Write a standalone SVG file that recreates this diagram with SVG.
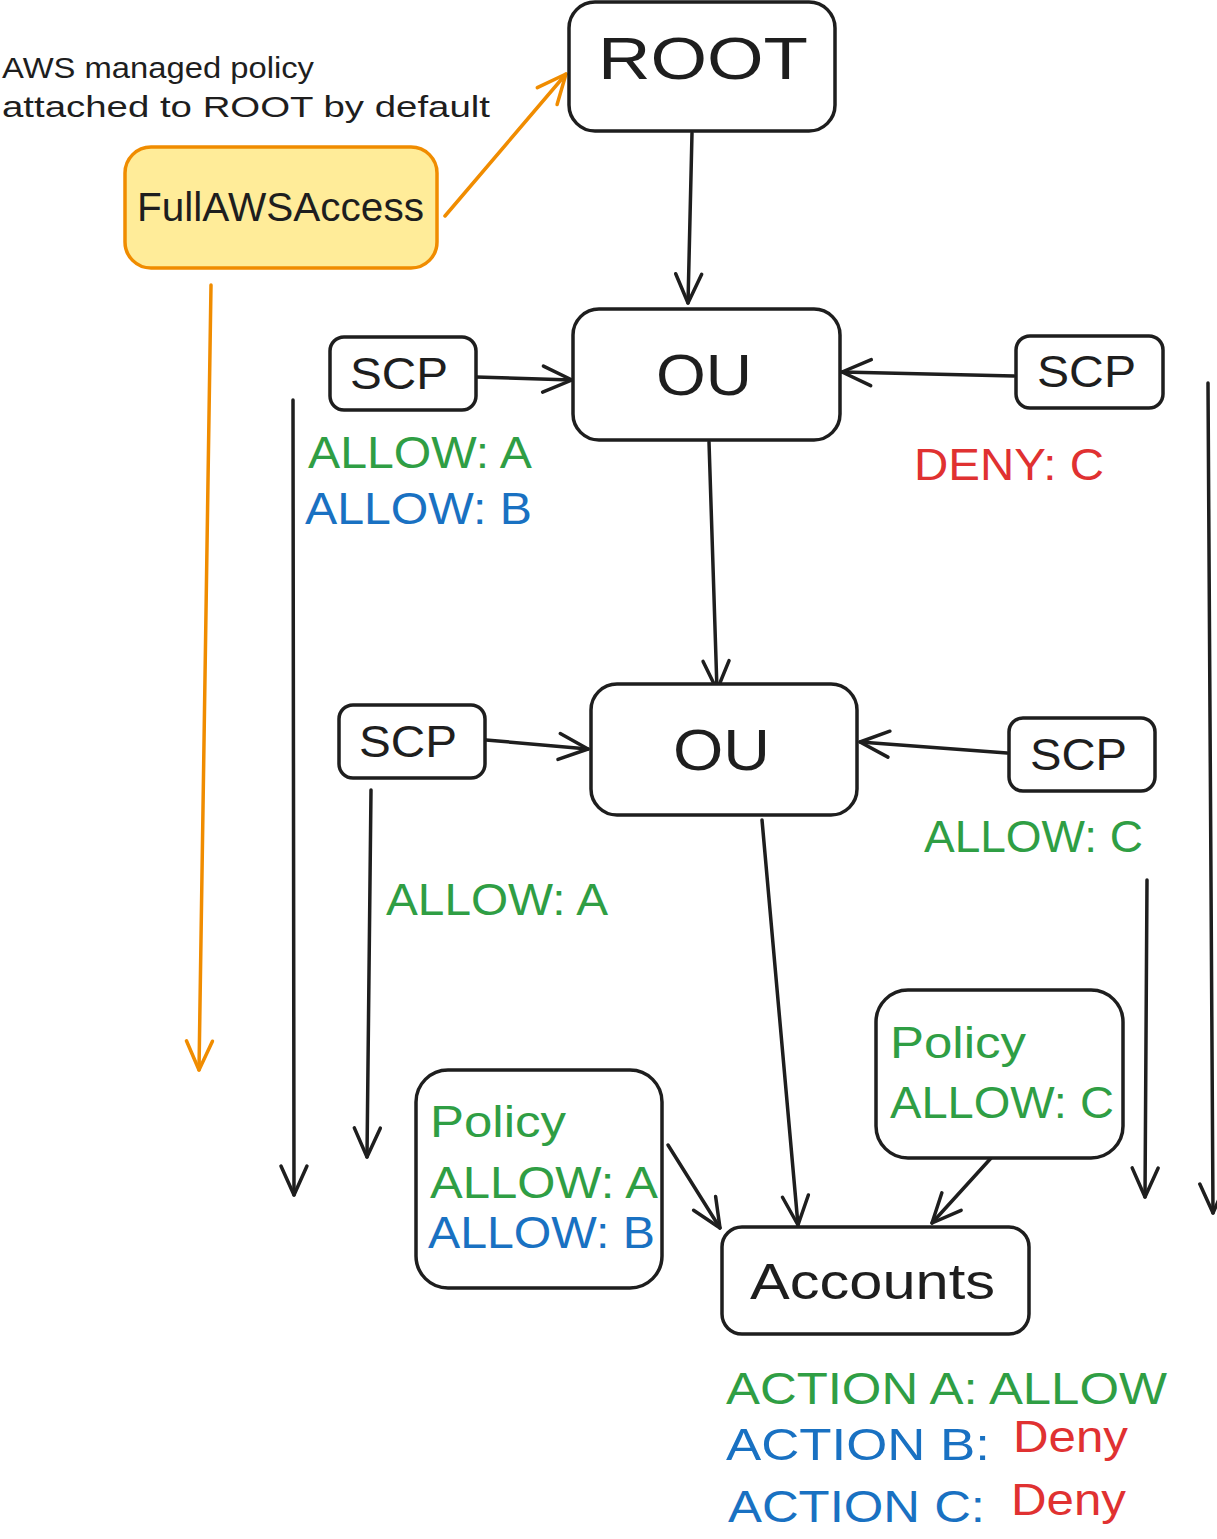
<svg xmlns="http://www.w3.org/2000/svg" width="1217" height="1539" viewBox="0 0 1217 1539">
<style>
.box{fill:#ffffff;stroke:#1e1e1e;stroke-width:3.5}
.yel{fill:#ffec99;stroke:#f08c00;stroke-width:3.5}
.t{font-family:"Liberation Sans",Arial,sans-serif}
.k{fill:#1e1e1e}.g{fill:#2f9e44}.b{fill:#1971c2}.r{fill:#e03131}
.ln{fill:none;stroke:#1e1e1e;stroke-width:3.5;stroke-linecap:round;marker-end:url(#ah)}
.lo{fill:none;stroke:#f08c00;stroke-width:3.5;stroke-linecap:round;marker-end:url(#ao)}
</style>
<defs>
<marker id="ah" markerUnits="userSpaceOnUse" markerWidth="40" markerHeight="40" refX="30" refY="20" orient="auto" overflow="visible">
<path d="M1,7 L30,20 L1,33" fill="none" stroke="#1e1e1e" stroke-width="3.5" stroke-linecap="round" stroke-linejoin="round"/>
</marker>
<marker id="ao" markerUnits="userSpaceOnUse" markerWidth="40" markerHeight="40" refX="30" refY="20" orient="auto" overflow="visible">
<path d="M1,7 L30,20 L1,33" fill="none" stroke="#f08c00" stroke-width="3.5" stroke-linecap="round" stroke-linejoin="round"/>
</marker>
</defs>

<g id="connectors">
<line class="lo" x1="445" y1="216" x2="566" y2="74"/>
<line class="lo" x1="211" y1="285" x2="199" y2="1070"/>
<line class="ln" x1="692" y1="133" x2="688" y2="303"/>
<line class="ln" x1="476" y1="377" x2="572" y2="380"/>
<line class="ln" x1="1014" y1="376" x2="842" y2="372"/>
<line class="ln" x1="293" y1="400" x2="294" y2="1195"/>
<line class="ln" x1="1208" y1="383" x2="1213" y2="1213"/>
<line class="ln" x1="709" y1="442" x2="717" y2="690"/>
<line class="ln" x1="486" y1="740" x2="588" y2="749"/>
<line class="ln" x1="1007" y1="753" x2="860" y2="742"/>
<line class="ln" x1="371" y1="790" x2="367" y2="1157"/>
<line class="ln" x1="1147" y1="880" x2="1145" y2="1197"/>
<line class="ln" x1="762" y1="820" x2="798" y2="1225"/>
<line class="ln" x1="668" y1="1145" x2="720" y2="1228"/>
<line class="ln" x1="992" y1="1157" x2="932" y2="1223"/>
</g>

<g id="note">
<text class="t k" x="2" y="78" font-size="30" textLength="312" lengthAdjust="spacingAndGlyphs">AWS managed policy</text>
<text class="t k" x="2" y="117" font-size="30" textLength="488" lengthAdjust="spacingAndGlyphs">attached to ROOT by default</text>
</g>

<g id="root">
<rect class="box" x="569" y="2" width="266" height="129" rx="26"/>
<text class="t k" x="598" y="79" font-size="60" textLength="210" lengthAdjust="spacingAndGlyphs">ROOT</text>
</g>

<g id="fullawsaccess">
<rect class="yel" x="125" y="147" width="312" height="121" rx="26"/>
<text class="t k" x="137" y="221" font-size="40" textLength="287" lengthAdjust="spacingAndGlyphs">FullAWSAccess</text>
</g>

<g id="ou1">
<rect class="box" x="573" y="309" width="267" height="131" rx="26"/>
<text class="t k" x="656" y="395" font-size="58" textLength="96" lengthAdjust="spacingAndGlyphs">OU</text>
</g>

<g id="scp-left-1">
<rect class="box" x="330" y="337" width="146" height="73" rx="14"/>
<text class="t k" x="350" y="389" font-size="44" textLength="98" lengthAdjust="spacingAndGlyphs">SCP</text>
</g>
<g id="scp-right-1">
<rect class="box" x="1016" y="336" width="147" height="72" rx="14"/>
<text class="t k" x="1037" y="387" font-size="44" textLength="99" lengthAdjust="spacingAndGlyphs">SCP</text>
</g>

<g id="labels-1">
<text class="t g" x="308" y="468" font-size="44" textLength="224" lengthAdjust="spacingAndGlyphs">ALLOW: A</text>
<text class="t b" x="305" y="524" font-size="44" textLength="227" lengthAdjust="spacingAndGlyphs">ALLOW: B</text>
<text class="t r" x="914" y="480" font-size="44" textLength="190" lengthAdjust="spacingAndGlyphs">DENY: C</text>
</g>

<g id="ou2">
<rect class="box" x="591" y="684" width="266" height="131" rx="26"/>
<text class="t k" x="673" y="770" font-size="58" textLength="97" lengthAdjust="spacingAndGlyphs">OU</text>
</g>

<g id="scp-left-2">
<rect class="box" x="339" y="705" width="146" height="73" rx="14"/>
<text class="t k" x="359" y="757" font-size="44" textLength="98" lengthAdjust="spacingAndGlyphs">SCP</text>
</g>
<g id="scp-right-2">
<rect class="box" x="1009" y="718" width="146" height="73" rx="14"/>
<text class="t k" x="1030" y="770" font-size="44" textLength="97" lengthAdjust="spacingAndGlyphs">SCP</text>
</g>

<g id="labels-2">
<text class="t g" x="924" y="852" font-size="44" textLength="219" lengthAdjust="spacingAndGlyphs">ALLOW: C</text>
<text class="t g" x="386" y="915" font-size="44" textLength="222" lengthAdjust="spacingAndGlyphs">ALLOW: A</text>
</g>

<g id="policy-left">
<rect class="box" x="416" y="1070" width="246" height="218" rx="32"/>
<text class="t g" x="430" y="1137" font-size="44" textLength="136" lengthAdjust="spacingAndGlyphs">Policy</text>
<text class="t g" x="430" y="1198" font-size="44" textLength="228" lengthAdjust="spacingAndGlyphs">ALLOW: A</text>
<text class="t b" x="428" y="1248" font-size="44" textLength="227" lengthAdjust="spacingAndGlyphs">ALLOW: B</text>
</g>

<g id="policy-right">
<rect class="box" x="876" y="990" width="247" height="168" rx="32"/>
<text class="t g" x="890" y="1058" font-size="44" textLength="136" lengthAdjust="spacingAndGlyphs">Policy</text>
<text class="t g" x="890" y="1118" font-size="44" textLength="224" lengthAdjust="spacingAndGlyphs">ALLOW: C</text>
</g>

<g id="accounts">
<rect class="box" x="722" y="1227" width="307" height="107" rx="20"/>
<text class="t k" x="750" y="1299" font-size="50" textLength="245" lengthAdjust="spacingAndGlyphs">Accounts</text>
</g>

<g id="results">
<text class="t g" x="726" y="1404" font-size="44" textLength="441" lengthAdjust="spacingAndGlyphs">ACTION A: ALLOW</text>
<text class="t b" x="726" y="1460" font-size="44" textLength="264" lengthAdjust="spacingAndGlyphs">ACTION B:</text>
<text class="t r" x="1013" y="1452" font-size="44" textLength="115" lengthAdjust="spacingAndGlyphs">Deny</text>
<text class="t b" x="728" y="1522" font-size="44" textLength="257" lengthAdjust="spacingAndGlyphs">ACTION C:</text>
<text class="t r" x="1011" y="1515" font-size="44" textLength="115" lengthAdjust="spacingAndGlyphs">Deny</text>
</g>
</svg>
